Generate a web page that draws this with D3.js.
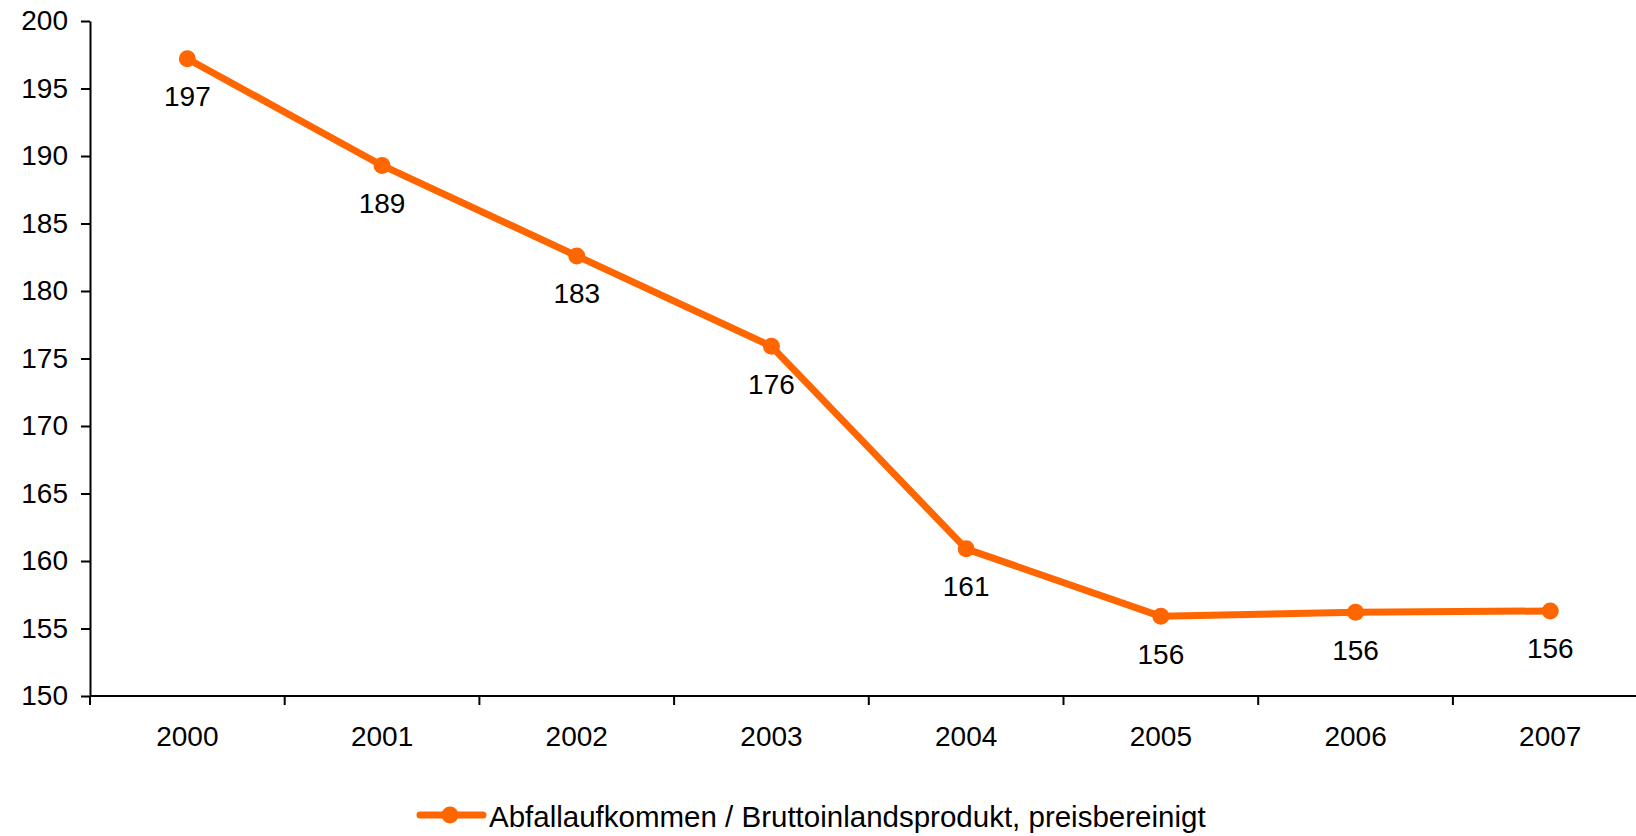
<!DOCTYPE html>
<html>
<head>
<meta charset="utf-8">
<script src="https://cdn.jsdelivr.net/npm/d3@7"></script>
<style>
  html, body { margin: 0; padding: 0; background: #fff; }
  svg { display: block; font-family: "Liberation Sans", Arial, sans-serif; }
</style>
</head>
<body>
<svg id="chart" width="1636" height="836"></svg>
<script>
// Waste generation per GDP (price-adjusted), index values by year
const years = ["2000", "2001", "2002", "2003", "2004", "2005", "2006", "2007"];
const values = [197.2, 189.3, 182.6, 175.9, 160.9, 155.9, 156.2, 156.3];
const yTicks = [150, 155, 160, 165, 170, 175, 180, 185, 190, 195, 200];
const seriesName = "Abfallaufkommen / Bruttoinlandsprodukt, preisbereinigt";

const color = "#FF6600";
const fontFamily = "'Liberation Sans', Arial, sans-serif";
const svg = d3.select("#chart");

const plotLeft = 90, plotTop = 21, plotBottom = 696;
const band = 194.7;

const x = d3.scaleBand().domain(years).range([plotLeft, plotLeft + band * years.length]).padding(0);
const y = d3.scaleLinear().domain([150, 200]).range([plotBottom, plotTop]);

// Y axis
const yAxis = svg.append("g")
  .attr("transform", `translate(${plotLeft},0)`)
  .call(d3.axisLeft(y).tickValues(yTicks).tickSize(9).tickPadding(13).tickSizeOuter(0));
yAxis.select(".domain").attr("stroke", "#000").attr("stroke-width", 2);
yAxis.selectAll(".tick line").attr("stroke", "#000").attr("stroke-width", 2);
yAxis.selectAll(".tick text").attr("font-size", 28).attr("fill", "#000")
  .attr("font-family", fontFamily);

// X axis: labels at band centres, ticks at band boundaries
const xAxis = svg.append("g")
  .attr("transform", `translate(0,${plotBottom})`)
  .call(d3.axisBottom(x).tickSize(0).tickPadding(30).tickSizeOuter(0));
xAxis.select(".domain").remove();
xAxis.selectAll(".tick text").attr("font-size", 28).attr("fill", "#000")
  .attr("font-family", fontFamily);

svg.append("line")
  .attr("x1", x.range()[0]).attr("x2", x.range()[1])
  .attr("y1", plotBottom).attr("y2", plotBottom)
  .attr("stroke", "#000").attr("stroke-width", 2);

const boundaries = years.map(d => x(d)).concat([x.range()[1]]);
svg.append("g").selectAll("line").data(boundaries).join("line")
  .attr("x1", d => d).attr("x2", d => d)
  .attr("y1", plotBottom).attr("y2", plotBottom + 9)
  .attr("stroke", "#000").attr("stroke-width", 2);

// Series line and markers
const cx = d => x(d) + x.bandwidth() / 2;
const pts = years.map((d, i) => ({ year: d, v: values[i] }));

svg.append("path")
  .datum(pts)
  .attr("fill", "none")
  .attr("stroke", color)
  .attr("stroke-width", 7)
  .attr("stroke-linejoin", "round")
  .attr("d", d3.line().x(d => cx(d.year)).y(d => y(d.v)));

svg.append("g").selectAll("circle").data(pts).join("circle")
  .attr("cx", d => cx(d.year)).attr("cy", d => y(d.v))
  .attr("r", 8.5).attr("fill", color);

// Value labels below each point
svg.append("g").selectAll("text").data(pts).join("text")
  .attr("x", d => cx(d.year))
  .attr("y", d => y(d.v) + 38)
  .attr("text-anchor", "middle")
  .attr("dominant-baseline", "central")
  .attr("font-size", 28)
  .attr("fill", "#000")
  .text(d => Math.round(d.v));

// Legend
const lg = svg.append("g").attr("transform", "translate(420,815)");
lg.append("line").attr("x1", 0).attr("x2", 63).attr("y1", 0).attr("y2", 0)
  .attr("stroke", color).attr("stroke-width", 7).attr("stroke-linecap", "round");
lg.append("circle").attr("cx", 30).attr("cy", 0).attr("r", 8.5).attr("fill", color);
lg.append("text").attr("x", 69).attr("y", 1)
  .attr("dominant-baseline", "central")
  .attr("font-size", 29.5).attr("fill", "#000")
  .text(seriesName);
</script>
</body>
</html>
